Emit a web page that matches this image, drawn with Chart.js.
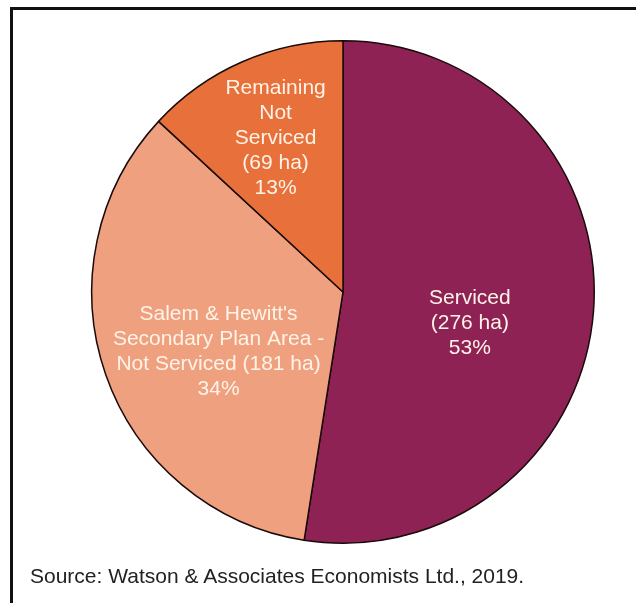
<!DOCTYPE html>
<html>
<head>
<meta charset="utf-8">
<script src="https://cdn.jsdelivr.net/npm/chart.js@4/dist/chart.umd.min.js"></script>
<style>
  body { margin: 0; background: #fff; }
  #wrap { position: relative; width: 636px; height: 603px; }
  #frame {
    position: absolute; left: 10px; top: 7px; right: 0; bottom: 0;
    border-top: 3px solid #111; border-left: 3px solid #111;
  }
  #source {
    position: absolute; left: 30px; top: 564px;
    font-family: "Liberation Sans", Arial, sans-serif; font-size: 21px; color: #222;
  }
</style>
</head>
<body>
<div id="wrap">
  <canvas id="pieChart"></canvas>
  <div id="frame"></div>
  <div id="source">Source: Watson &amp; Associates Economists Ltd., 2019.</div>
</div>
<script>
// Data
const categories = ['Serviced', "Salem & Hewitt's Secondary Plan Area - Not Serviced", 'Remaining Not Serviced'];
const hectares = [276, 181, 69];
const percentLabels = ['53%', '34%', '13%'];
const labelLines = [
  ['Serviced', '(276 ha)', '53%'],
  ["Salem & Hewitt's", 'Secondary Plan Area -', 'Not Serviced (181 ha)', '34%'],
  ['Remaining', 'Not', 'Serviced', '(69 ha)', '13%']
];
const sliceColors = ['#8E2254', '#EFA07F', '#E8703A'];

// where each label sits: fraction of radius, angle nudge (deg)
const labelRadius = [0.52, 0.55, 0.67];
const labelNudge = [9.4, -6.6, 0];

const sliceLabels = {
  id: 'sliceLabels',
  afterDatasetsDraw(chart) {
    const ctx = chart.ctx;
    const arcs = chart.getDatasetMeta(0).data;
    ctx.save();
    ctx.font = '21px "Liberation Sans", Arial, sans-serif';
    ctx.fillStyle = '#FFF3E8';
    ctx.textAlign = 'center';
    ctx.textBaseline = 'middle';
    arcs.forEach((arc, i) => {
      const p = arc.getProps(['x', 'y', 'startAngle', 'endAngle', 'outerRadius'], true);
      const mid = (p.startAngle + p.endAngle) / 2 + labelNudge[i] * Math.PI / 180;
      const cx = p.x + Math.cos(mid) * p.outerRadius * labelRadius[i];
      const cy = p.y + Math.sin(mid) * p.outerRadius * labelRadius[i];
      const lines = labelLines[i];
      const lh = 25;
      lines.forEach((t, j) => {
        ctx.fillText(t, cx, cy + (j - (lines.length - 1) / 2) * lh);
      });
    });
    ctx.restore();
  }
};

new Chart(document.getElementById('pieChart').getContext('2d'), {
  type: 'pie',
  data: {
    labels: categories,
    datasets: [{
      data: hectares,
      backgroundColor: sliceColors,
      borderColor: '#1a0a0a',
      borderWidth: 1.5
    }]
  },
  options: {
    responsive: true,
    maintainAspectRatio: false,
    animation: false,
    layout: { padding: { left: 86, right: 36, top: 40, bottom: 59 } },
    plugins: {
      legend: { display: false },
      tooltip: { enabled: false }
    }
  },
  plugins: [sliceLabels]
});
</script>
</body>
</html>
